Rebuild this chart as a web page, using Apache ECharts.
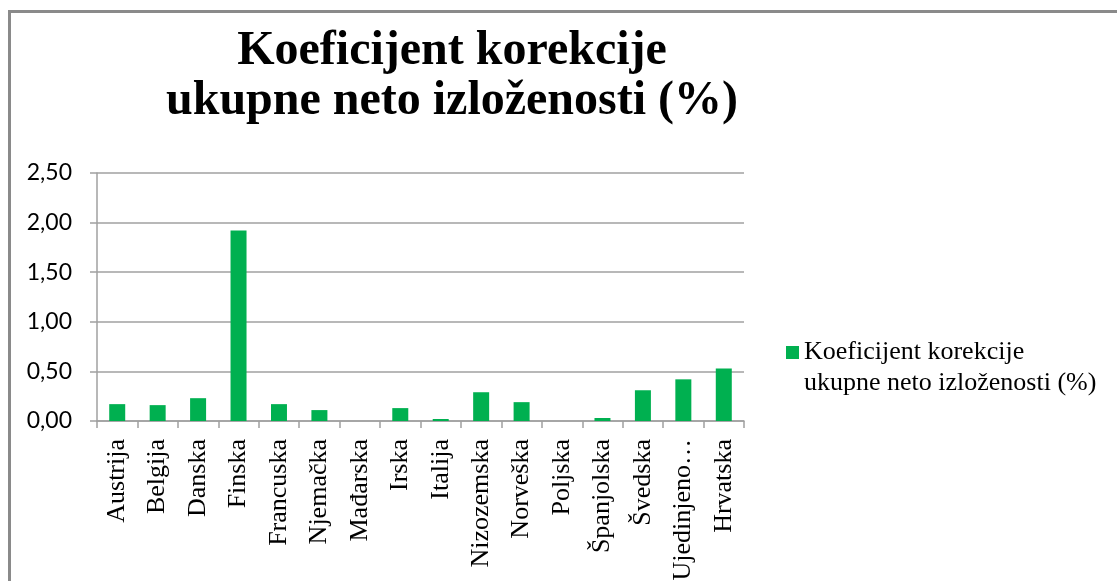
<!DOCTYPE html>
<html>
<head>
<meta charset="utf-8">
<script src="https://cdn.jsdelivr.net/npm/echarts@6/dist/echarts.min.js"></script>
<style>
  html, body { margin: 0; padding: 0; background: #fff; }
  #chart { width: 1117px; height: 581px; }
</style>
</head>
<body>
<div id="chart"></div>
<script>
// podaci s grafikona
var zemlje = ["Austrija", "Belgija", "Danska", "Finska", "Francuska", "Njemačka", "Mađarska", "Irska",
  "Italija", "Nizozemska", "Norveška", "Poljska", "Španjolska", "Švedska", "Ujedinjeno Kraljevstvo", "Hrvatska"];
var koeficijent = [0.17, 0.16, 0.23, 1.92, 0.17, 0.11, 0, 0.13, 0.02, 0.29, 0.19, 0, 0.03, 0.31, 0.42, 0.53];
var yTicks = [0, 0.5, 1, 1.5, 2, 2.5];
var naziv = "Koeficijent korekcije\nukupne neto izloženosti (%)";

var chart = echarts.init(document.getElementById("chart"));
var option = {
  animation: false,
  title: {
    text: naziv,
    left: 447,
    top: 22,
    textAlign: "center",
    textStyle: {
      fontFamily: "Liberation Serif",
      fontWeight: "bold",
      fontSize: 48,
      lineHeight: 50,
      color: "#000"
    }
  },
  graphic: [{
    type: "rect",
    shape: { x: 9.5, y: 11.5, width: 1300, height: 800 },
    style: { fill: "none", stroke: "#8a8a8a", lineWidth: 3 }
  }],
  legend: {
    data: [naziv],
    left: 786,
    top: 306,
    padding: 0,
    itemWidth: 13,
    itemHeight: 13,
    icon: "rect",
    // prazan prvi red da kvadratić stoji uz prvi red teksta
    formatter: function (n) { return "\n" + n; },
    textStyle: {
      fontFamily: "Liberation Serif",
      fontSize: 26,
      lineHeight: 31,
      color: "#000"
    }
  },
  grid: { left: 97, right: 373, top: 173, bottom: 160, outerBoundsMode: "none" },
  xAxis: {
    type: "category",
    data: zemlje,
    axisLine: { lineStyle: { color: "#a0a0a0", width: 1.5 } },
    axisTick: { show: true, length: 7, lineStyle: { color: "#a0a0a0", width: 1.5 } },
    axisLabel: {
      rotate: 90,
      interval: 0,
      margin: 18,
      fontFamily: "Liberation Serif",
      fontSize: 26,
      color: "#000",
      formatter: function (v) {
        return v.length > 12 ? v.split(" ")[0] + "…" : v;
      }
    }
  },
  yAxis: {
    type: "value",
    min: 0,
    max: 2.5,
    interval: 0.5,
    axisLine: { show: true, lineStyle: { color: "#a0a0a0", width: 1.5 } },
    axisTick: { show: true, length: 7, lineStyle: { color: "#a0a0a0", width: 1.5 } },
    splitLine: { lineStyle: { color: "#a0a0a0", width: 1.5 } },
    axisLabel: {
      margin: 25,
      fontFamily: "Lato",
      fontSize: 23,
      color: "#000",
      formatter: function (v) {
        return yTicks.indexOf(v) >= 0 ? v.toFixed(2).replace(".", ",") : "";
      }
    }
  },
  series: [{
    name: naziv,
    type: "bar",
    data: koeficijent,
    barWidth: 16,
    itemStyle: { color: "#00B050" }
  }]
};
chart.setOption(option);
</script>
</body>
</html>
